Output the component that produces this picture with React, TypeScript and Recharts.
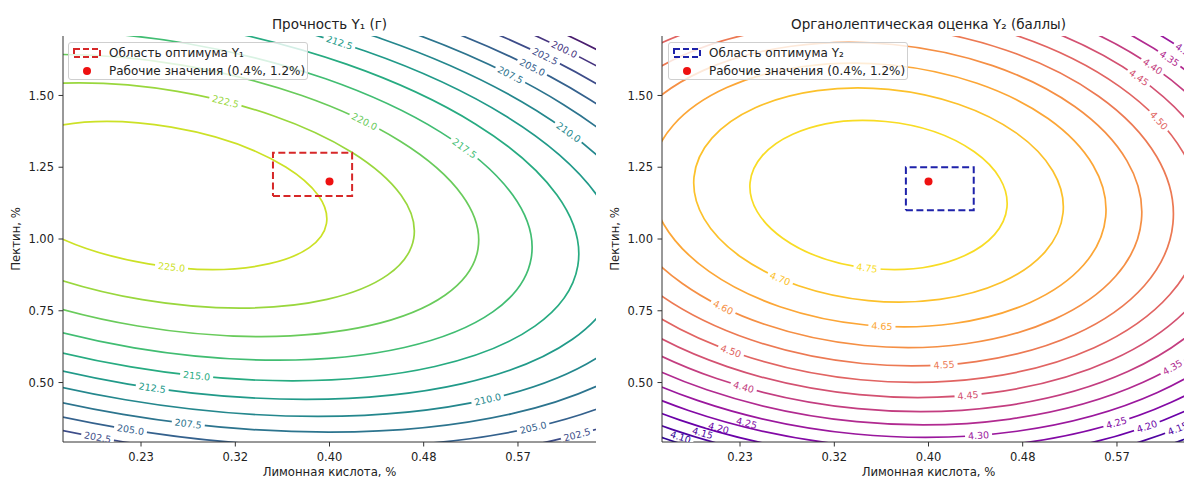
import { ComposedChart, Legend, Line, Scatter, XAxis, YAxis } from 'recharts';

const FONT = '"DejaVu Sans", Verdana, sans-serif';
const AXIS = '#333';
const TEXT = '#222';
const POINT_COLOR = '#ee1111';

// axes: coded levels -1.414 … +1.414 around 0.4 % citric acid and 1.0 % pectin
const xDomain = [0.1643, 0.6357];
const yDomain = [0.2929, 1.7071];
const xTicks = [0.2333, 0.3167, 0.4, 0.4833, 0.5667];
const yTicks = [0.5, 0.75, 1.0, 1.25, 1.5];

const workPoint = [0.4, 1.2];
const y1Optimum = [0.35, 0.42, 1.15, 1.3]; // x from, x to, y from, y to
const y2Optimum = [0.38, 0.44, 1.1, 1.25];

// Y1 – strength, contour lines (closed loops, 8 points each)
const y1Levels = [225, 222.5, 220, 217.5, 215, 212.5, 210, 207.5, 205, 202.5, 200, 197.5];
const y1Contours = [
    [[0.3973, 1.0536], [0.3469, 0.914], [0.2397, 0.9134], [0.1385, 1.0523], [0.1025, 1.2492], [0.1529, 1.3888], [0.2601, 1.3894], [0.3613, 1.2505]],
    [[0.4745, 1.0023], [0.3978, 0.7895], [0.2344, 0.7887], [0.0801, 1.0004], [0.0253, 1.3005], [0.102, 1.5133], [0.2654, 1.5141], [0.4197, 1.3024]],
    [[0.5313, 0.9646], [0.4351, 0.6981], [0.2305, 0.697], [0.0372, 0.9622], [-0.0315, 1.3382], [0.0647, 1.6048], [0.2693, 1.6058], [0.4626, 1.3406]],
    [[0.5784, 0.9334], [0.4662, 0.6222], [0.2272, 0.621], [0.0016, 0.9305], [-0.0786, 1.3694], [0.0337, 1.6806], [0.2726, 1.6818], [0.4982, 1.3723]],
    [[0.6196, 0.9061], [0.4932, 0.5559], [0.2244, 0.5545], [-0.0295, 0.9028], [-0.1198, 1.3967], [0.0066, 1.7469], [0.2754, 1.7483], [0.5293, 1.4]],
    [[0.6566, 0.8815], [0.5176, 0.4963], [0.2218, 0.4948], [-0.0575, 0.8779], [-0.1568, 1.4213], [-0.0178, 1.8066], [0.278, 1.808], [0.5573, 1.4249]],
    [[0.6905, 0.859], [0.5399, 0.4416], [0.2195, 0.44], [-0.0831, 0.8551], [-0.1907, 1.4438], [-0.0401, 1.8612], [0.2803, 1.8628], [0.5829, 1.4477]],
    [[0.7219, 0.8381], [0.5607, 0.3909], [0.2173, 0.3892], [-0.1069, 0.834], [-0.2221, 1.4647], [-0.0609, 1.9119], [0.2825, 1.9136], [0.6067, 1.4688]],
    [[0.7515, 0.8185], [0.5801, 0.3433], [0.2153, 0.3415], [-0.1292, 0.8141], [-0.2517, 1.4843], [-0.0803, 1.9595], [0.2845, 1.9613], [0.629, 1.4887]],
    [[0.7793, 0.8], [0.5984, 0.2984], [0.2134, 0.2965], [-0.1503, 0.7954], [-0.2795, 1.5028], [-0.0986, 2.0044], [0.2865, 2.0063], [0.6501, 1.5074]],
    [[0.8058, 0.7824], [0.6159, 0.2558], [0.2115, 0.2538], [-0.1703, 0.7776], [-0.306, 1.5204], [-0.1161, 2.047], [0.2883, 2.049], [0.6701, 1.5252]],
    [[0.8311, 0.7657], [0.6325, 0.2151], [0.2098, 0.213], [-0.1894, 0.7606], [-0.3313, 1.5371], [-0.1327, 2.0877], [0.29, 2.0898], [0.6892, 1.5422]],
];
// inline labels: level, x, y, angle
const y1Labels = [
    [225, 0.2603, 0.9021, 6], [222.5, 0.308, 1.479, 14], [220, 0.431, 1.4092, 26], [217.5, 0.5195, 1.3158, 36],
    [212.5, 0.4088, 1.6844, 18], [210, 0.6114, 1.3718, 36], [207.5, 0.56, 1.5716, 27], [205, 0.5794, 1.5979, 27],
    [202.5, 0.5907, 1.6365, 26], [200, 0.6077, 1.6607, 26], [215, 0.2825, 0.5235, 6], [212.5, 0.2432, 0.4815, 8],
    [207.5, 0.2751, 0.3567, 7], [205, 0.224, 0.3358, 9], [202.5, 0.1949, 0.3093, 10], [210, 0.5399, 0.4416, -13],
    [205, 0.5801, 0.3433, -13], [202.5, 0.6189, 0.3183, -15],
];

// Y2 – organoleptic score
const y2Levels = [4.75, 4.7, 4.65, 4.6, 4.55, 4.5, 4.45, 4.4, 4.35, 4.3, 4.25, 4.2, 4.15, 4.1];
const y2Contours = [
    [[0.4694, 1.1101], [0.4317, 0.9417], [0.3495, 0.8973], [0.2711, 1.0028], [0.2422, 1.1965], [0.2799, 1.3649], [0.3621, 1.4093], [0.4405, 1.3038]],
    [[0.519, 1.0913], [0.4648, 0.8493], [0.3468, 0.7855], [0.2341, 0.9371], [0.1926, 1.2154], [0.2468, 1.4573], [0.3648, 1.5211], [0.4775, 1.3695]],
    [[0.5567, 1.0769], [0.49, 0.7791], [0.3447, 0.7005], [0.2059, 0.8871], [0.1549, 1.2297], [0.2216, 1.5275], [0.3669, 1.6061], [0.5057, 1.4195]],
    [[0.5883, 1.0649], [0.5111, 0.7201], [0.343, 0.6291], [0.1823, 0.8452], [0.1233, 1.2417], [0.2005, 1.5865], [0.3686, 1.6775], [0.5293, 1.4614]],
    [[0.6162, 1.0543], [0.5297, 0.6682], [0.3414, 0.5663], [0.1615, 0.8083], [0.0954, 1.2523], [0.1819, 1.6384], [0.3702, 1.7403], [0.5501, 1.4983]],
    [[0.6413, 1.0447], [0.5465, 0.6214], [0.34, 0.5097], [0.1428, 0.775], [0.0703, 1.2619], [0.1651, 1.6852], [0.3716, 1.7969], [0.5688, 1.5316]],
    [[0.6644, 1.0359], [0.562, 0.5784], [0.3388, 0.4576], [0.1255, 0.7443], [0.0472, 1.2707], [0.1496, 1.7282], [0.3728, 1.849], [0.5861, 1.5623]],
    [[0.6859, 1.0278], [0.5763, 0.5383], [0.3376, 0.4092], [0.1095, 0.7159], [0.0257, 1.2788], [0.1353, 1.7683], [0.374, 1.8974], [0.6021, 1.5907]],
    [[0.7061, 1.0201], [0.5898, 0.5008], [0.3365, 0.3637], [0.0945, 0.6891], [0.0055, 1.2865], [0.1218, 1.8058], [0.3751, 1.9429], [0.6171, 1.6175]],
    [[0.7251, 1.0129], [0.6025, 0.4652], [0.3354, 0.3207], [0.0802, 0.6639], [-0.0135, 1.2938], [0.1091, 1.8414], [0.3762, 1.9859], [0.6314, 1.6427]],
    [[0.7433, 1.006], [0.6147, 0.4315], [0.3344, 0.2798], [0.0667, 0.6399], [-0.0317, 1.3007], [0.097, 1.8751], [0.3772, 2.0268], [0.6449, 1.6668]],
    [[0.7606, 0.9994], [0.6262, 0.3992], [0.3335, 0.2408], [0.0538, 0.6169], [-0.049, 1.3072], [0.0854, 1.9074], [0.3782, 2.0658], [0.6578, 1.6897]],
    [[0.7772, 0.9931], [0.6373, 0.3682], [0.3325, 0.2033], [0.0414, 0.5949], [-0.0656, 1.3136], [0.0743, 1.9384], [0.3791, 2.1033], [0.6702, 1.7117]],
    [[0.7932, 0.987], [0.648, 0.3385], [0.3317, 0.1673], [0.0295, 0.5737], [-0.0816, 1.3196], [0.0636, 1.9681], [0.38, 2.1393], [0.6821, 1.7329]],
];
const y2Labels = [
    [4.75, 0.3456, 0.8989, 7], [4.7, 0.2688, 0.8617, 23], [4.65, 0.3588, 0.6963, 3], [4.6, 0.2184, 0.7618, 26],
    [4.55, 0.4137, 0.5618, -4], [4.5, 0.2253, 0.6095, 20], [4.45, 0.435, 0.4554, -5], [4.4, 0.2365, 0.4844, 16],
    [4.3, 0.4443, 0.316, -4], [4.25, 0.2391, 0.3589, 14], [4.2, 0.2143, 0.3415, 15], [4.15, 0.2002, 0.324, 16],
    [4.1, 0.1807, 0.3101, 18], [4.25, 0.5662, 0.36, -17], [4.2, 0.5932, 0.3472, -19], [4.15, 0.6205, 0.3401, -22],
    [4.35, 0.6158, 0.5529, -30], [4.5, 0.6038, 1.4128, 47], [4.45, 0.5861, 1.5623, 35], [4.4, 0.5982, 1.6014, 34],
    [4.35, 0.613, 1.6288, 34], [4.3, 0.627, 1.6547, 34],
];

// colormap samples (viridis / plasma), same order as the levels
const viridis = ['#cce126', '#99d73d', '#69cb5b', '#41bd72', '#27ab81', '#219a89', '#24878d', '#2c748e', '#34618d', '#3d4c89', '#46347f', '#481c6e'];
const plasma = ['#f8dc24', '#fcc12b', '#fca636', '#f58f44', '#ec7953', '#e16462', '#d35171', '#c33d80', '#b12a90', '#9a179d', '#8309a5', '#6a00a8', '#4f03a1', '#300596'];

const LABEL_FS = 9.5;
const TICK = { fontSize: 11.5, fill: TEXT, fontFamily: FONT };
const fmt2 = (v: number) => v.toFixed(2);

// smooth closed curve through evenly spaced points of an ellipse (45° apart)
const closedLoop = (context: any) => {
    let pts: number[][] = [];
    const k = 0.18753;
    return {
        areaStart() {},
        areaEnd() {},
        lineStart() { pts = []; },
        point(x: number, y: number) { pts.push([x, y]); },
        lineEnd() {
            const n = pts.length;
            if (!n) return;
            context.moveTo(pts[0][0], pts[0][1]);
            for (let i = 0; i < n; i++) {
                const p0 = pts[(i - 1 + n) % n];
                const p1 = pts[i];
                const p2 = pts[(i + 1) % n];
                const p3 = pts[(i + 2) % n];
                context.bezierCurveTo(
                    p1[0] + k * (p2[0] - p0[0]), p1[1] + k * (p2[1] - p0[1]),
                    p2[0] - k * (p3[0] - p1[0]), p2[1] - k * (p3[1] - p1[1]),
                    p2[0], p2[1],
                );
            }
            context.closePath();
        },
    };
};

const labelWidth = (t: string) => [...t].reduce((w, ch) => w + (ch === '.' ? 0.318 : 0.636), 0) * LABEL_FS;

const LabelGap = (p: any) => {
    const w = labelWidth(p.payload.text) + 6;
    return (
        <rect x={p.cx - w / 2} y={p.cy - 2.5} width={w} height={5} fill="#fff"
            transform={`rotate(${p.payload.angle} ${p.cx} ${p.cy})`} />
    );
};

const LabelText = (p: any) => (
    <text x={p.cx} y={p.cy} dy="0.36em" textAnchor="middle" fontSize={LABEL_FS} fontFamily={FONT}
        fill={p.payload.color} transform={`rotate(${p.payload.angle} ${p.cx} ${p.cy})`}>
        {p.payload.text}
    </text>
);

const Dot = (p: any) => <circle cx={p.cx} cy={p.cy} r={4} fill={POINT_COLOR} />;

const LegendBox = ({ color, label }: { color: string; label: string }) => (
    <div style={{
        width: 240, height: 38, boxSizing: 'border-box', background: 'rgba(255,255,255,0.8)',
        border: '1px solid #cfcfcf', borderRadius: 3, padding: '1px 0 0 4px',
        fontFamily: FONT, fontSize: 12, color: TEXT,
    }}>
        <div style={{ display: 'flex', alignItems: 'center', height: 18 }}>
            <svg width={28} height={10}>
                <rect x={1} y={1} width={26} height={8} fill="none" stroke={color} strokeWidth={2} strokeDasharray="6 3" />
            </svg>
            <span style={{ marginLeft: 8, whiteSpace: 'nowrap' }}>{label}</span>
        </div>
        <div style={{ display: 'flex', alignItems: 'center', height: 18 }}>
            <svg width={28} height={10}>
                <circle cx={14} cy={5} r={4} fill={POINT_COLOR} />
            </svg>
            <span style={{ marginLeft: 8, whiteSpace: 'nowrap' }}>Рабочие значения (0.4%, 1.2%)</span>
        </div>
    </div>
);

interface PanelProps {
    left: number;
    yAxisWidth: number;
    marginRight: number;
    yLabelOffset: number;
    title: string;
    legendLabel: string;
    rectColor: string;
    levels: number[];
    contours: number[][][];
    colors: string[];
    labels: number[][];
    digits: number;
    optimum: number[];
}

const ContourPanel = (p: PanelProps) => {
    const labelData = p.labels.map(([level, x, y, angle]) => ({
        x, y, angle, text: level.toFixed(p.digits), color: p.colors[p.levels.indexOf(level)],
    }));
    const [x1, x2, y1, y2] = p.optimum;
    const rectData = [{ x: x1, y: y1 }, { x: x2, y: y1 }, { x: x2, y: y2 }, { x: x1, y: y2 }, { x: x1, y: y1 }];
    const plotWidth = 600 - p.yAxisWidth - p.marginRight;
    return (
        <div style={{ position: 'absolute', left: p.left, top: 0, width: 600, height: 477 }}>
            <div style={{
                position: 'absolute', left: p.yAxisWidth, width: plotWidth, top: 16, lineHeight: '16px',
                textAlign: 'center', fontFamily: FONT, fontSize: 13.5, color: TEXT, whiteSpace: 'nowrap',
            }}>
                {p.title}
            </div>
            <ComposedChart width={600} height={477} margin={{ top: 36, right: p.marginRight, bottom: 0, left: 0 }}>
                <XAxis type="number" dataKey="x" domain={xDomain} allowDataOverflow ticks={xTicks} interval={0}
                    tickFormatter={fmt2} height={35} tickSize={4.5} tickMargin={6} stroke={AXIS} tick={TICK}
                    label={{ value: 'Лимонная кислота, %', position: 'insideBottom', offset: 1.5, fontSize: 11.7, fill: TEXT, fontFamily: FONT }} />
                <XAxis xAxisId="top" orientation="top" type="number" domain={xDomain} allowDataOverflow height={0}
                    tick={false} tickLine={false} stroke={AXIS} />
                <YAxis type="number" dataKey="y" domain={yDomain} allowDataOverflow ticks={yTicks} interval={0}
                    tickFormatter={fmt2} width={p.yAxisWidth} tickSize={4.5} tickMargin={4.5} stroke={AXIS} tick={TICK}
                    label={{
                        value: 'Пектин, %', angle: -90, position: 'insideLeft', offset: p.yLabelOffset,
                        fontSize: 11.7, fill: TEXT, fontFamily: FONT, style: { textAnchor: 'middle' },
                    }} />
                <YAxis yAxisId="right" orientation="right" type="number" domain={yDomain} allowDataOverflow width={0}
                    tick={false} tickLine={false} stroke={AXIS} />

                {p.contours.map((pts, i) => (
                    <Line key={p.levels[i]} data={pts.map(([x, y]) => ({ x, y }))} dataKey="y" type={closedLoop as any}
                        stroke={p.colors[i]} strokeWidth={1.7} dot={false} activeDot={false} legendType="none"
                        isAnimationActive={false} />
                ))}
                <Scatter data={labelData} shape={LabelGap} legendType="none" isAnimationActive={false} />
                <Scatter data={labelData} shape={LabelText} legendType="none" isAnimationActive={false} />
                <Line data={rectData} dataKey="y" type="linear" stroke={p.rectColor} strokeWidth={2}
                    strokeDasharray="7 3.5" dot={false} activeDot={false} legendType="none" isAnimationActive={false} />
                <Scatter data={[{ x: workPoint[0], y: workPoint[1] }]} shape={Dot} legendType="none" isAnimationActive={false} />

                <Legend layout="vertical" align="center" verticalAlign="middle"
                    wrapperStyle={{ left: 68, top: 42, width: 240, height: 38 }}
                    content={() => <LegendBox color={p.rectColor} label={p.legendLabel} />} />
            </ComposedChart>
        </div>
    );
};

const App = () => (
    <div style={{ position: 'absolute', left: 0, top: 0, width: 1184, height: 477, overflow: 'hidden', background: '#fff' }}>
        <ContourPanel left={0} yAxisWidth={63} marginRight={4} yLabelOffset={16}
            title="Прочность Y₁ (г)" legendLabel="Область оптимума Y₁" rectColor="#d62728"
            levels={y1Levels} contours={y1Contours} colors={viridis} labels={y1Labels} digits={1} optimum={y1Optimum} />
        <ContourPanel left={600} yAxisWidth={62} marginRight={5} yLabelOffset={15}
            title="Органолептическая оценка Y₂ (баллы)" legendLabel="Область оптимума Y₂" rectColor="#1e22aa"
            levels={y2Levels} contours={y2Contours} colors={plasma} labels={y2Labels} digits={2} optimum={y2Optimum} />
    </div>
);

export default App;
